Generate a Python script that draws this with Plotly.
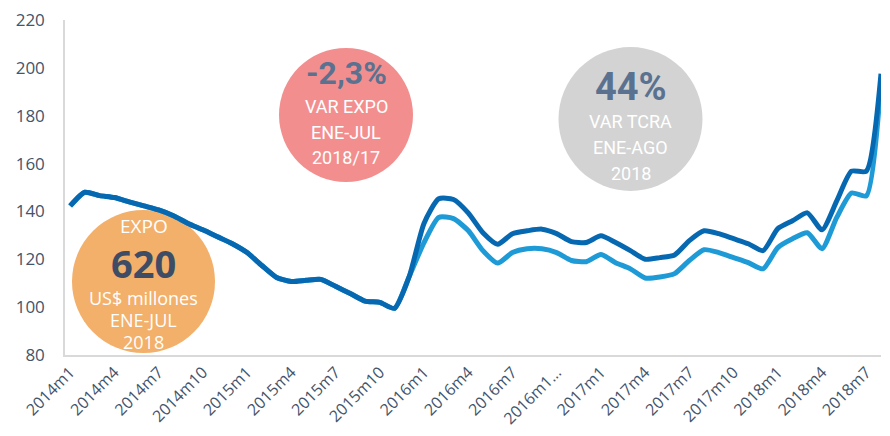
import plotly.graph_objects as go

months = [f"{y}m{m}" for y in range(2014, 2019) for m in range(1, 13)][:56]

tick_vals = months[::3]
tick_text = ["2014m1", "2014m4", "2014m7", "2014m10", "2015m1", "2015m4", "2015m7",
             "2015m10", "2016m1", "2016m4", "2016m7", "2016m1...", "2017m1", "2017m4",
             "2017m7", "2017m10", "2018m1", "2018m4", "2018m7"]

dark_series = [142.3, 148.0, 146.6, 145.8, 144.0, 142.3, 140.6, 138.2, 135.0, 132.3,
               129.4, 126.5, 122.8, 117.4, 112.4, 110.7, 111.2, 111.6, 108.7, 105.7,
               102.5, 102.0, 99.5, 112.8, 135.0, 145.3, 145.0, 139.4, 131.1, 126.3,
               130.7, 131.9, 132.6, 130.7, 127.4, 127.0, 129.8, 127.0, 123.6, 120.0,
               120.7, 121.8, 127.8, 131.9, 130.7, 128.6, 126.5, 123.6, 132.8, 136.1,
               139.4, 132.3, 144.4, 156.8, 156.8, 197.5]

light_series = [142.3, 148.0, 146.6, 145.8, 144.0, 142.3, 140.6, 138.2, 135.0, 132.3,
                129.4, 126.5, 122.8, 117.4, 112.4, 110.7, 111.2, 111.6, 108.7, 105.7,
                102.5, 102.0, 99.5, 112.8, 127.0, 137.5, 137.0, 132.0, 123.6, 118.4,
                122.8, 124.4, 124.4, 122.8, 119.5, 119.0, 122.0, 118.6, 116.0, 112.2,
                112.6, 114.0, 119.5, 124.0, 122.8, 120.7, 118.6, 116.0, 124.9, 128.6,
                131.1, 124.4, 137.5, 147.7, 146.5, 195.0]

# page body has an 8px default margin; keep the figure inside the viewport
OFF = 8
W, H = 874, 420
ML, MR, MT, MB = 57, 1, 12, 73
PW, PH = W - ML - MR, H - MT - MB


def px(x):
    return (x - OFF - ML) / PW


def py(y):
    return (H - MB - (y - OFF)) / PH


fig = go.Figure()
fig.add_trace(go.Scatter(x=months, y=light_series, mode="lines",
                         line=dict(color="#1E9AD6", width=5, shape="spline", smoothing=0.6),
                         hoverinfo="skip", showlegend=False, cliponaxis=False))
fig.add_trace(go.Scatter(x=months, y=dark_series, mode="lines",
                         line=dict(color="#0668B0", width=5, shape="spline", smoothing=0.6),
                         hoverinfo="skip", showlegend=False, cliponaxis=False))

circles = [
    (143.5, 281.5, 71.5, "#F2B06A"),
    (346, 115, 67, "#F38E8F"),
    (630.5, 119, 72, "#D3D3D3"),
]
for cx, cy, r, col in circles:
    fig.add_shape(type="circle", xref="paper", yref="paper",
                  xsizemode="pixel", ysizemode="pixel",
                  xanchor=px(cx), yanchor=py(cy),
                  x0=-r, x1=r, y0=-r, y1=r,
                  fillcolor=col, line=dict(width=0), layer="below")

texts = [
    (143.5, 226, "EXPO", 19, "white", "Open Sans", False),
    (143.5, 263, "620", 38, "#3E4C65", "Open Sans", True),
    (143.5, 298, "US$ millones", 18, "white", "Open Sans", False),
    (143.5, 320, "ENE-JUL", 18, "white", "Open Sans", False),
    (143.5, 342, "2018", 18, "white", "Open Sans", False),
    (346, 73, "-2,3%", 32, "#5A7290", "Roboto", True),
    (346, 106, "VAR EXPO", 18, "white", "Roboto", False),
    (346, 132, "ENE-JUL", 18, "white", "Roboto", False),
    (346, 157, "2018/17", 18, "white", "Roboto", False),
    (630.5, 87, "44%", 38, "#5A7290", "Roboto", True),
    (630.5, 121, "VAR TCRA", 18, "white", "Roboto", False),
    (630.5, 147, "ENE-AGO", 18, "white", "Roboto", False),
    (630.5, 173, "2018", 18, "white", "Roboto", False),
]
for x, y, t, s, c, f, b in texts:
    fig.add_annotation(xref="paper", yref="paper", x=px(x), y=py(y),
                       xanchor="center", yanchor="middle", showarrow=False,
                       borderpad=0,
                       text=f"<b>{t}</b>" if b else t,
                       font=dict(size=s, color=c, family=f))

fig.update_layout(
    width=W, height=H,
    margin=dict(l=ML, r=MR, t=MT, b=MB, autoexpand=False),
    paper_bgcolor="white", plot_bgcolor="white",
    font=dict(family="Open Sans", color="#44546A"),
    xaxis=dict(type="category", range=[-0.35, 55.0], automargin=False,
               tickmode="array", tickvals=tick_vals, ticktext=tick_text,
               tickangle=-45, tickfont=dict(size=16, color="#44546A"),
               ticklabeloverflow="allow",
               showgrid=False, zeroline=False, showline=True,
               linecolor="#D9D9D9", linewidth=1.5, ticks=""),
    yaxis=dict(range=[80, 220], dtick=20, tick0=80, automargin=False,
               tickfont=dict(size=17, color="#44546A"),
               ticklabeloverflow="allow",
               showgrid=False, zeroline=False, showline=True,
               linecolor="#D9D9D9", linewidth=1.5, ticks="", ticklabelstandoff=15),
)

fig.write_html("out.html")
